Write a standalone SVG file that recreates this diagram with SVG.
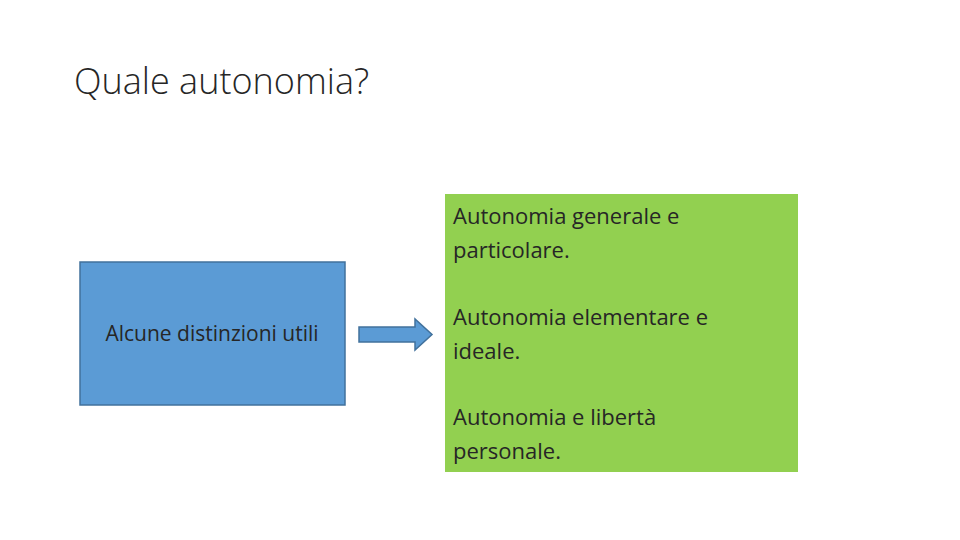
<svg xmlns="http://www.w3.org/2000/svg" width="960" height="540" viewBox="0 0 960 540">
<style>
.t{font-family:"Open Sans","Liberation Sans",sans-serif;fill:#262626}
.g{font-size:22px}
</style>
<rect width="960" height="540" fill="#fff"/>
<text class="t" x="74" y="94" font-size="36" font-weight="300">Quale autonomia?</text>
<g id="source">
<rect x="80" y="262" width="265" height="143" fill="#5B9BD5" stroke="#41719C" stroke-width="1.5"/>
<text class="t" x="212" y="341" font-size="21" text-anchor="middle">Alcune distinzioni utili</text>
</g>
<g id="connectors">
<polygon points="359,327 415,327 415,319 432,334.5 415,350 415,342 359,342" fill="#5B9BD5" stroke="#41719C" stroke-width="1.5"/>
</g>
<g id="target">
<rect x="445" y="194" width="353" height="278" fill="#92D050"/>
<text class="t g" x="453" y="224">Autonomia generale e</text>
<text class="t g" x="453" y="258">particolare.</text>
<text class="t g" x="453" y="325">Autonomia elementare e</text>
<text class="t g" x="453" y="359">ideale.</text>
<text class="t g" x="453" y="425">Autonomia e libertà</text>
<text class="t g" x="453" y="459">personale.</text>
</g>
</svg>
